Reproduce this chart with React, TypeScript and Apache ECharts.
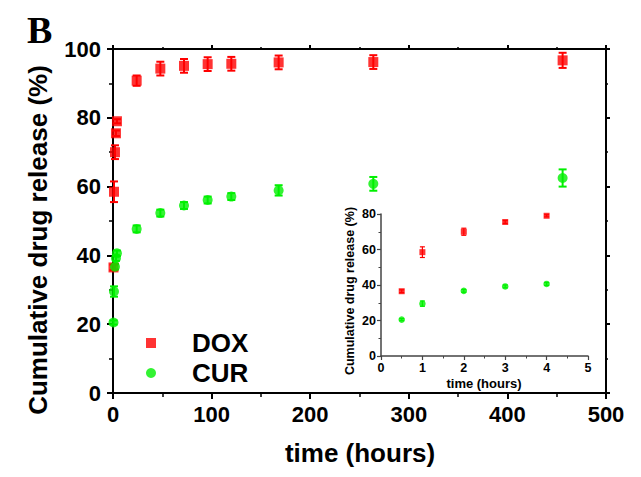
import React, { useEffect, useRef } from "react";
import * as echarts from "echarts";

const timeHours = [0.5, 1, 2, 3, 4, 24, 48, 72, 96, 120, 168, 264, 456];
const doxRelease = [36.5, 58.5, 70, 75.5, 79, 90.8, 94.3, 95.1, 95.6, 95.7, 96.1, 96.2, 96.7];
const doxError = [0.8, 3, 2, 0.8, 0.6, 1.5, 2, 2, 2, 2, 2, 2, 2.2];
const curRelease = [20.5, 29.5, 36.7, 39.2, 40.6, 47.7, 52.3, 54.5, 56.1, 57.1, 58.9, 60.8, 62.5];
const curError = [0.6, 1.5, 0.8, 0.8, 0.8, 1, 1, 1, 1, 1, 1.5, 2, 2.5];
const insetCount = 5; // points 0.5–4 h shown in inset

const RED = "#ff0000";
const GREEN = "#00f000";
const FONT = "'Liberation Sans', Arial, sans-serif";

function errorSeries(name: string, data: number[][], color: string, axis: number, cap: number, lw: number) {
  return {
    type: "custom",
    name,
    xAxisIndex: axis,
    yAxisIndex: axis,
    z: 1,
    encode: { x: 0, y: 1 },
    data,
    renderItem: (params: any, api: any) => {
      const x = api.value(0);
      const y = api.value(1);
      const e = api.value(2);
      const top = api.coord([x, y + e]);
      const bot = api.coord([x, y - e]);
      const style = { stroke: color, lineWidth: lw };
      return {
        type: "group",
        children: [
          { type: "line", shape: { x1: top[0], y1: top[1], x2: bot[0], y2: bot[1] }, style },
          { type: "line", shape: { x1: top[0] - cap, y1: top[1], x2: top[0] + cap, y2: top[1] }, style },
          { type: "line", shape: { x1: bot[0] - cap, y1: bot[1], x2: bot[0] + cap, y2: bot[1] }, style },
        ],
      };
    },
  };
}

export default function App() {
  const ref = useRef<HTMLDivElement>(null);
  useEffect(() => {
    if (!ref.current) return;
    const chart = echarts.init(ref.current, null, { renderer: "svg" });
    const doxMain = timeHours.map((t, i) => [t, doxRelease[i]]);
    const curMain = timeHours.map((t, i) => [t, curRelease[i]]);
    const doxErrMain = timeHours.map((t, i) => [t, doxRelease[i], doxError[i]]);
    const curErrMain = timeHours.map((t, i) => [t, curRelease[i], curError[i]]);
    const doxIn = doxMain.slice(0, insetCount);
    const curIn = curMain.slice(0, insetCount);
    const doxErrIn = doxErrMain.slice(0, insetCount);
    const curErrIn = curErrMain.slice(0, insetCount);

    const mainLine = { show: true, onZero: false, lineStyle: { color: "#000", width: 2 } };
    const mainTick = { show: true, inside: false, length: 6, lineStyle: { color: "#000", width: 2 } };
    const mainMinor = { show: true, splitNumber: 2, length: 4, lineStyle: { color: "#000", width: 1.5 } };
    const mainLabel = { color: "#000", fontWeight: "bold", fontSize: 22, fontFamily: FONT };
    const inLine = { show: true, onZero: false, lineStyle: { color: "#444", width: 1.5 } };
    const inTick = { show: true, inside: false, length: 4, lineStyle: { color: "#444", width: 1.2 } };
    const inMinor = { show: true, splitNumber: 2, length: 2.5, lineStyle: { color: "#444", width: 1 } };
    const inLabel = { color: "#000", fontWeight: "bold", fontSize: 12.5, fontFamily: FONT };

    chart.setOption({
      animation: false,
      backgroundColor: "#fff",
      grid: [
        { left: 113, top: 49, right: 35, bottom: 84 },
        { left: 381, top: 214, right: 53, bottom: 121 },
      ],
      xAxis: [
        { type: "value", gridIndex: 0, min: 0, max: 500, interval: 100, axisLine: mainLine, axisTick: mainTick, minorTick: mainMinor, splitLine: { show: false }, axisLabel: { ...mainLabel, margin: 10 } },
        { type: "value", gridIndex: 1, min: 0, max: 5, interval: 1, axisLine: inLine, axisTick: inTick, minorTick: inMinor, splitLine: { show: false }, axisLabel: { ...inLabel, margin: 5 } },
        { type: "value", gridIndex: 0, position: "top", min: 0, max: 500, interval: 100, axisLine: mainLine, axisTick: { ...mainTick, length: 4 }, minorTick: { ...mainMinor, length: 2 }, splitLine: { show: false }, axisLabel: { show: false } },
      ],
      yAxis: [
        { type: "value", gridIndex: 0, min: 0, max: 100, interval: 20, axisLine: mainLine, axisTick: mainTick, minorTick: mainMinor, splitLine: { show: false }, axisLabel: { ...mainLabel, margin: 12 } },
        { type: "value", gridIndex: 1, min: 0, max: 80, interval: 20, axisLine: inLine, axisTick: inTick, minorTick: inMinor, splitLine: { show: false }, axisLabel: { ...inLabel, margin: 5 } },
        { type: "value", gridIndex: 0, position: "right", min: 0, max: 100, interval: 20, axisLine: mainLine, axisTick: { ...mainTick, length: 4 }, minorTick: { ...mainMinor, length: 2 }, splitLine: { show: false }, axisLabel: { show: false } },
      ],
      legend: {
        data: [
          { name: "DOX", icon: "rect" },
          { name: "CUR", icon: "circle" },
        ],
        orient: "vertical",
        left: 141,
        top: 325,
        itemWidth: 10,
        itemHeight: 10,
        itemGap: 4,
        selectedMode: false,
        textStyle: { color: "#000", fontWeight: "bold", fontSize: 26, fontFamily: FONT, lineHeight: 26, padding: [0, 0, 0, 31] },
      },
      series: [
        errorSeries("DOX error", doxErrMain, RED, 0, 4, 2),
        errorSeries("CUR error", curErrMain, GREEN, 0, 4, 2),
        { type: "scatter", name: "DOX", xAxisIndex: 0, yAxisIndex: 0, z: 3, data: doxMain, symbol: "rect", symbolSize: 10, itemStyle: { color: RED } },
        { type: "scatter", name: "CUR", xAxisIndex: 0, yAxisIndex: 0, z: 3, data: curMain, symbol: "circle", symbolSize: 10, itemStyle: { color: GREEN } },
        errorSeries("DOX inset error", doxErrIn, RED, 1, 2.5, 1.2),
        errorSeries("CUR inset error", curErrIn, GREEN, 1, 2.5, 1.2),
        { type: "scatter", name: "DOX (inset)", xAxisIndex: 1, yAxisIndex: 1, z: 3, data: doxIn, symbol: "rect", symbolSize: 6, itemStyle: { color: RED } },
        { type: "scatter", name: "CUR (inset)", xAxisIndex: 1, yAxisIndex: 1, z: 3, data: curIn, symbol: "circle", symbolSize: 6.5, itemStyle: { color: GREEN } },
      ],
      graphic: [
        { type: "text", left: 27, top: 11, style: { text: "B", fontFamily: "'Liberation Serif', 'Times New Roman', serif", fontWeight: "bold", fontSize: 38, fill: "#000" } },
        { type: "text", x: 38, y: 240, rotation: Math.PI / 2, style: { text: "Cumulative drug release (%)", fontFamily: FONT, fontWeight: "bold", fontSize: 26, fill: "#000", textAlign: "center", textVerticalAlign: "middle" } },
        { type: "text", x: 360, y: 453, style: { text: "time (hours)", fontFamily: FONT, fontWeight: "bold", fontSize: 26, fill: "#000", textAlign: "center", textVerticalAlign: "middle" } },
        { type: "text", x: 350, y: 291, rotation: Math.PI / 2, style: { text: "Cumulative drug release (%)", fontFamily: FONT, fontWeight: "bold", fontSize: 12.5, fill: "#000", textAlign: "center", textVerticalAlign: "middle" } },
        { type: "text", x: 484, y: 383, style: { text: "time (hours)", fontFamily: FONT, fontWeight: "bold", fontSize: 13, fill: "#000", textAlign: "center", textVerticalAlign: "middle" } },
      ],
    });
    return () => chart.dispose();
  }, []);
  return <div ref={ref} style={{ width: 641, height: 477, position: "absolute", left: 0, top: 0 }} />;
}
